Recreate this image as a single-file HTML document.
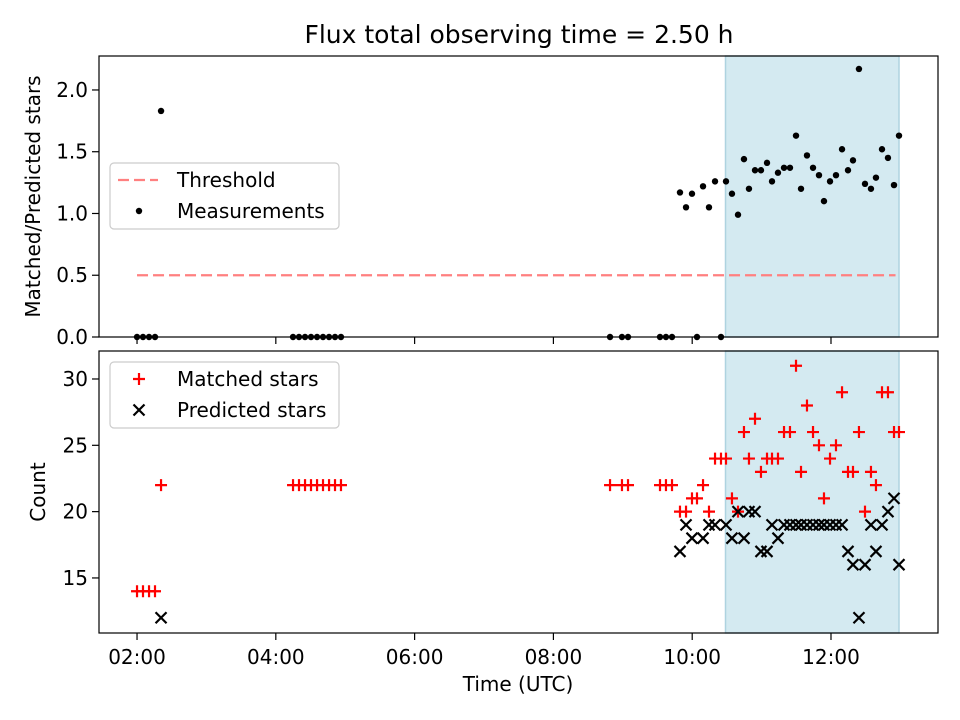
<!DOCTYPE html>
<html><head><meta charset="utf-8">
<style>
html,body{margin:0;padding:0;background:#fff;}
svg{display:block;font-family:"DejaVu Sans","Liberation Sans",sans-serif;}
</style></head>
<body>
<svg id="chart" width="960" height="720" viewBox="0 0 960 720" xmlns="http://www.w3.org/2000/svg">
<rect width="960" height="720" fill="#fff"/>
<text x="519" y="43" font-size="25" text-anchor="middle" fill="#000">Flux total observing time = 2.50 h</text>
<g id="topPanel"></g>
<g id="botPanel"></g>
</svg>
<script>
// ===== data (times in decimal hours UTC) =====
const ratioTimes = [2.00,2.086,2.173,2.259,2.346,4.248,4.334,4.421,4.507,4.594,4.680,4.767,4.853,4.939,8.816,8.988,9.075,9.536,9.622,9.709,9.824,9.911,9.997,10.069,10.156,10.242,10.329,10.415,10.487,10.573,10.660,10.746,10.818,10.905,10.991,11.078,11.150,11.236,11.323,11.409,11.496,11.568,11.654,11.741,11.827,11.899,11.986,12.072,12.159,12.245,12.317,12.403,12.490,12.576,12.648,12.735,12.821,12.908,12.980];
const ratioValues = [0,0,0,0,1.83,0,0,0,0,0,0,0,0,0,0,0,0,0,0,0,1.17,1.05,1.16,0,1.22,1.05,1.26,0,1.26,1.16,0.99,1.44,1.20,1.35,1.35,1.41,1.26,1.33,1.37,1.37,1.63,1.20,1.47,1.37,1.31,1.10,1.26,1.31,1.52,1.35,1.43,2.17,1.24,1.20,1.29,1.52,1.45,1.23,1.63];
const matchedValues = [14,14,14,14,22,22,22,22,22,22,22,22,22,22,22,22,22,22,22,22,20,20,21,21,22,20,24,24,24,21,20,26,24,27,23,24,24,24,26,26,31,23,28,26,25,21,24,25,29,23,23,26,20,23,22,29,29,26,26];
const predictedValues = [null,null,null,null,12,null,null,null,null,null,null,null,null,null,null,null,null,null,null,null,17,19,18,null,18,19,19,null,19,18,20,18,20,20,17,17,19,18,19,19,19,19,19,19,19,19,19,19,19,17,16,12,16,19,17,19,20,21,16];
const thresholdValue = 0.5;
const thresholdRange = [2.0, 12.93];
const spanRange = [10.48, 12.98];
const xTickValues = [2,4,6,8,10,12];
const xTickLabels = ["02:00","04:00","06:00","08:00","10:00","12:00"];
const topYTicks = [0.0,0.5,1.0,1.5,2.0];
const topYTickLabels = ["0.0","0.5","1.0","1.5","2.0"];
const botYTicks = [15,20,25,30];
const botYTickLabels = ["15","20","25","30"];

// ===== layout =====
const L=99,R=938;
const TOPP={t:56,b:337,min:0,max:2.275};
const BOTP={t:351,b:633,min:10.85,max:32.11};
const X0=1.452,X1=13.542;
const xs=v=>L+(v-X0)/(X1-X0)*(R-L);
const ysTop=v=>TOPP.b-(v-TOPP.min)/(TOPP.max-TOPP.min)*(TOPP.b-TOPP.t);
const ysBot=v=>BOTP.b-(v-BOTP.min)/(BOTP.max-BOTP.min)*(BOTP.b-BOTP.t);
const NS="http://www.w3.org/2000/svg";
function mk(parent,tag,attrs,text){const e=document.createElementNS(NS,tag);for(const k in attrs)e.setAttribute(k,attrs[k]);if(text!==undefined)e.textContent=text;parent.appendChild(e);return e;}

function panel(g,P,ys,yt,ytl,label,labelY){
  let s=mk(g,'rect',{x:xs(spanRange[0]),y:P.t,width:xs(spanRange[1])-xs(spanRange[0]),height:P.b-P.t,fill:'#d4eaf1',stroke:'#aed3e0','stroke-width':1.5});
  
  
  xTickValues.forEach((v,i)=>{
    let t=mk(g,'line',{x1:xs(v),x2:xs(v),y1:P.b,y2:P.b+7,stroke:'#000','stroke-width':1.2});
    
    
  });
  yt.forEach((v,i)=>{
    let t=mk(g,'line',{x1:L-7,x2:L,y1:ys(v),y2:ys(v),stroke:'#000','stroke-width':1.2});
    
    
    let tl=mk(g,'text',{x:L-11,y:ys(v)+7,'font-size':20,'text-anchor':'end',fill:'#000'},ytl[i]);
    
    
  });
  let yl=mk(g,'text',{x:0,y:0,'font-size':20,'text-anchor':'middle',fill:'#000',transform:`translate(${labelY},${(P.t+P.b)/2}) rotate(-90)`},label);
  
  
}

const topG=document.getElementById('topPanel');
const botG=document.getElementById('botPanel');
panel(topG,TOPP,ysTop,topYTicks,topYTickLabels,'Matched/Predicted stars',40);
panel(botG,BOTP,ysBot,botYTicks,botYTickLabels,'Count',45);

let th=mk(topG,'line',{x1:xs(thresholdRange[0]),x2:xs(thresholdRange[1]),y1:ysTop(thresholdValue),y2:ysTop(thresholdValue),stroke:'#ff8080','stroke-width':2.2,'stroke-dasharray':'11,5'});



ratioTimes.forEach((t,i)=>{
  let c=mk(topG,'circle',{cx:xs(t),cy:ysTop(ratioValues[i]),r:3.2,fill:'#000'});
  
  
});
ratioTimes.forEach((t,i)=>{
  if(matchedValues[i]==null)return;
  const x=xs(t),y=ysBot(matchedValues[i]),h=6;
  let p=mk(botG,'path',{d:`M${x-h},${y}H${x+h}M${x},${y-h}V${y+h}`,stroke:'#ff0000','stroke-width':2.2,fill:'none'});
  
  
});
ratioTimes.forEach((t,i)=>{
  if(predictedValues[i]==null)return;
  const x=xs(t),y=ysBot(predictedValues[i]),h=5.5;
  let p=mk(botG,'path',{d:`M${x-h},${y-h}L${x+h},${y+h}M${x-h},${y+h}L${x+h},${y-h}`,stroke:'#000','stroke-width':2.2,fill:'none'});
  
  
});

[[topG,TOPP],[botG,BOTP]].forEach(([g,P])=>{
  let f=mk(g,'rect',{x:L,y:P.t,width:R-L,height:P.b-P.t,fill:'none',stroke:'#000','stroke-width':1.2});
  
  
});
xTickValues.forEach((v,i)=>{
  let tl=mk(botG,'text',{x:xs(v),y:BOTP.b+31,'font-size':20,'text-anchor':'middle',fill:'#000'},xTickLabels[i]);
  
  
});
let xl=mk(botG,'text',{x:518,y:691,'font-size':20,'text-anchor':'middle',fill:'#000'},'Time (UTC)');



function legendBox(g,y){
  let b=mk(g,'rect',{x:110,y:y,width:229,height:66,rx:4,fill:'rgba(255,255,255,0.8)',stroke:'#cccccc','stroke-width':1.2});
  
  
}
legendBox(topG,163);
let l1=mk(topG,'line',{x1:118,x2:158,y1:180,y2:180,stroke:'#ff8080','stroke-width':2.2,'stroke-dasharray':'11,5'});


let t1=mk(topG,'text',{x:177,y:187,'font-size':20,fill:'#000'},'Threshold');


let l2=mk(topG,'circle',{cx:139,cy:211,r:3.2,fill:'#000'});


let t2=mk(topG,'text',{x:177,y:218,'font-size':20,fill:'#000'},'Measurements');



legendBox(botG,362);
let l3=mk(botG,'path',{d:'M133,379H145M139,373V385',stroke:'#ff0000','stroke-width':2.2,fill:'none'});


let t3=mk(botG,'text',{x:177,y:386,'font-size':20,fill:'#000'},'Matched stars');


let l4=mk(botG,'path',{d:'M133.5,404.5L144.5,415.5M133.5,415.5L144.5,404.5',stroke:'#000','stroke-width':2.2,fill:'none'});


let t4=mk(botG,'text',{x:177,y:417,'font-size':20,fill:'#000'},'Predicted stars');


</script>
</body></html>
